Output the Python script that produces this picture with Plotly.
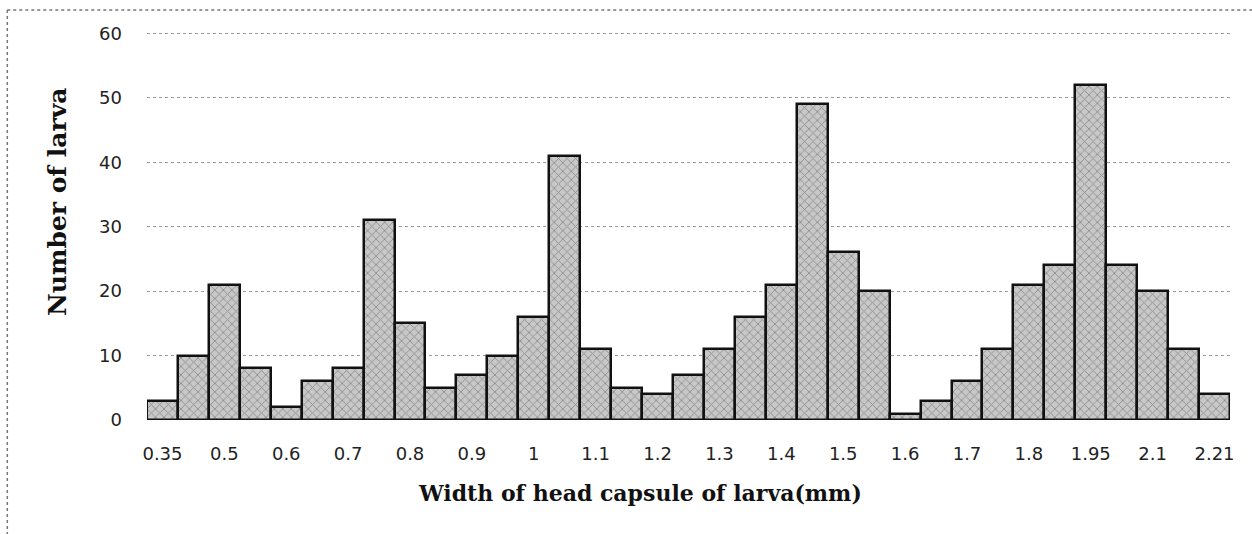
import plotly.graph_objects as go

# Number of larvae per head-capsule width class (35 classes)
counts = [3, 10, 21, 8, 2, 6, 8, 31, 15, 5, 7, 10, 16, 41, 11, 5, 4, 7,
          11, 16, 21, 49, 26, 20, 1, 3, 6, 11, 21, 24, 52, 24, 20, 11, 4]
# Labels shown on the axis (every other class)
tick_labels = ["0.35", "0.5", "0.6", "0.7", "0.8", "0.9", "1", "1.1", "1.2",
               "1.3", "1.4", "1.5", "1.6", "1.7", "1.8", "1.95", "2.1", "2.21"]
y_ticks = [0, 10, 20, 30, 40, 50, 60]

x_pos = list(range(len(counts)))
tick_pos = x_pos[::2]

fig = go.Figure()
fig.add_trace(go.Bar(
    x=x_pos, y=counts,
    width=1.0,
    marker=dict(
        color="#c8c8c8",
        line=dict(color="#111111", width=2.5),
        pattern=dict(shape="x", fgcolor="#555555", size=6, solidity=0.28,
                     fillmode="overlay"),
    ),
    showlegend=False,
    hoverinfo="skip",
))

# plot area: x 147..1230 px, y (value 0) at 420 px, value 60 at ~33 px
fig.update_layout(
    width=1252, height=534,
    margin=dict(l=147, r=22, t=27, b=114),
    paper_bgcolor="white", plot_bgcolor="white",
    bargap=0,
    font=dict(family="DejaVu Sans", size=18, color="#222222"),
    xaxis=dict(
        range=[-0.5, len(counts) - 0.5],
        tickmode="array", tickvals=tick_pos, ticktext=tick_labels,
        showgrid=False, zeroline=False, showline=False,
        ticks="", ticklabelstandoff=21,
        tickfont=dict(family="DejaVu Sans", size=18, color="#222222"),
    ),
    yaxis=dict(
        range=[0, 61], tickmode="array", tickvals=y_ticks,
        showgrid=True, gridcolor="#9a9a9a", griddash="dot", gridwidth=1,
        zeroline=False, showline=False, ticks="", ticklabelstandoff=24,
        tickfont=dict(family="DejaVu Sans", size=18, color="#222222"),
    ),
    annotations=[
        dict(text="<b>Width of head capsule of larva(mm)</b>",
             xref="paper", yref="paper", x=0.455, y=-0.186,
             xanchor="center", yanchor="middle", showarrow=False,
             font=dict(family="DejaVu Serif", size=22, color="#111111")),
        dict(text="<b>Number of larva</b>",
             xref="paper", yref="paper", x=-0.082, y=0.555,
             xanchor="center", yanchor="middle", showarrow=False,
             textangle=-90,
             font=dict(family="DejaVu Serif", size=25, color="#111111")),
    ],
    shapes=[
        dict(type="line", xref="paper", yref="paper",
             x0=-0.129, y0=1.043, x1=1.03, y1=1.043,
             line=dict(color="#777777", width=1.5, dash="dot")),
        dict(type="line", xref="paper", yref="paper",
             x0=-0.129, y0=1.043, x1=-0.129, y1=-0.31,
             line=dict(color="#777777", width=1.5, dash="dot")),
    ],
)

fig.write_html("out.html",
               config={"displayModeBar": False},
               post_script="document.body.style.margin='0';document.body.style.overflow='hidden';")
